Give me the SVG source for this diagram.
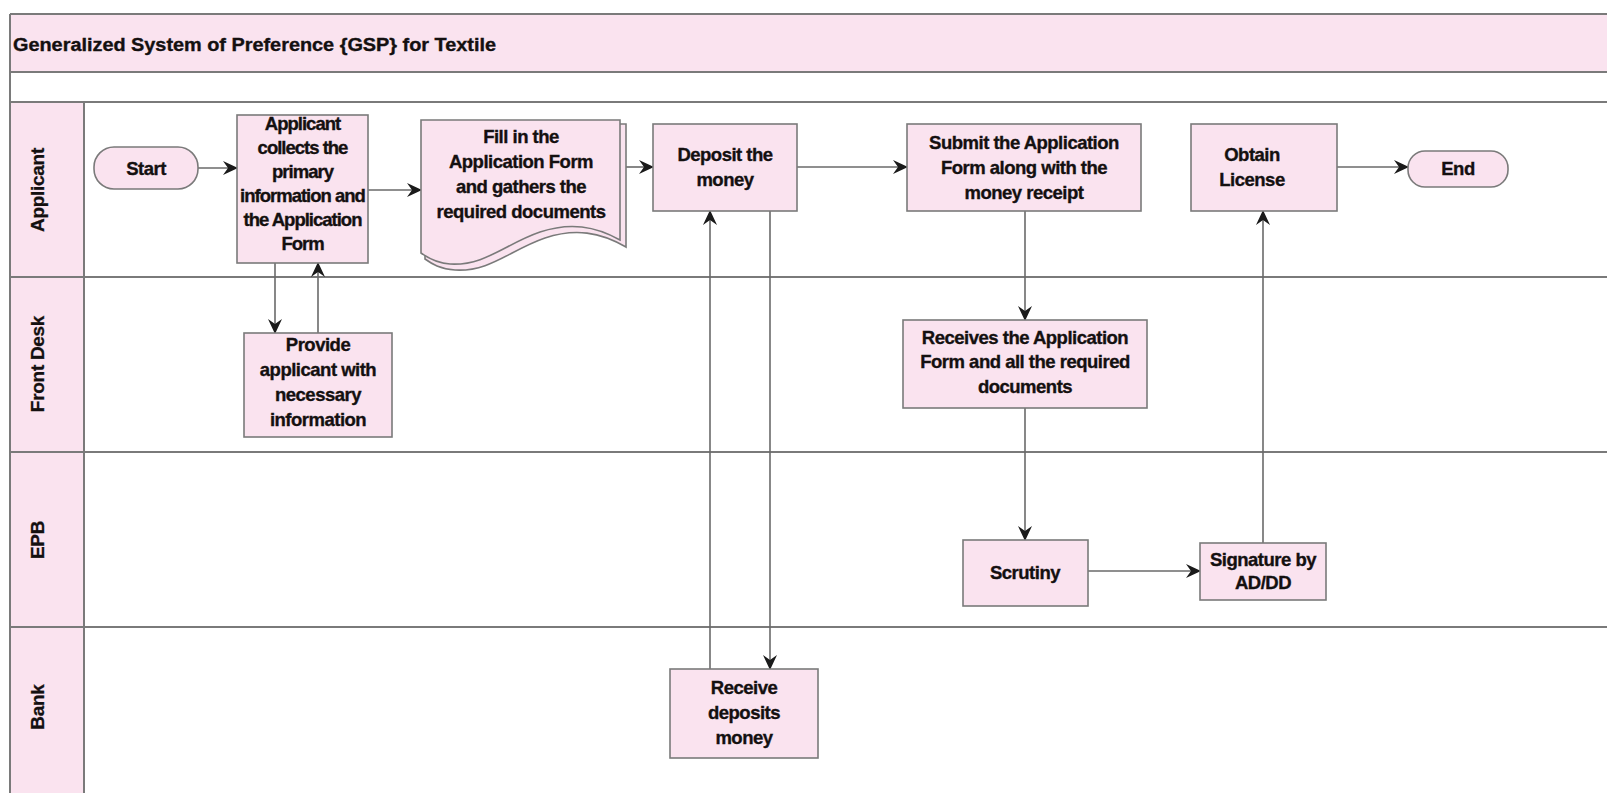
<svg xmlns="http://www.w3.org/2000/svg" width="1607" height="793" viewBox="0 0 1607 793">
<defs>
<marker id="arr" markerUnits="userSpaceOnUse" markerWidth="15" markerHeight="14" refX="14" refY="7" orient="auto">
<path d="M0,0 L15,7 L0,14 L5,7 Z" fill="#1a1a1a"/>
</marker>
<style>
.pink{fill:#fae3ef}
.lane{stroke:#7a7a7a;stroke-width:2;fill:none}
.box{fill:#fae3ef;stroke:#7a7a7a;stroke-width:1.6}
.t{font-family:"Liberation Sans",Arial,sans-serif;font-weight:bold;font-size:18.5px;fill:#141010;stroke:#141010;stroke-width:0.35;text-anchor:middle;letter-spacing:-0.5px}
.narrow{letter-spacing:-1px}
.lbl{font-family:"Liberation Sans",Arial,sans-serif;font-weight:bold;font-size:19px;fill:#141010;stroke:#141010;stroke-width:0.3;text-anchor:middle;letter-spacing:-0.3px}
.ttl{font-family:"Liberation Sans",Arial,sans-serif;font-weight:bold;font-size:18px;fill:#141010;stroke:#141010;stroke-width:0.35}
.c{stroke:#6a6a6a;stroke-width:1.6;fill:none;marker-end:url(#arr)}
</style>
</defs>
<rect width="1607" height="793" fill="#ffffff"/>
<g id="frame">
<rect x="10" y="14" width="1610" height="58" class="pink"/>
<rect x="10" y="102" width="74" height="700" class="pink"/>
<path class="lane" d="M10,14 H1607 M10,72 H1607 M10,102 H1607 M10,277 H1607 M10,452 H1607 M10,627 H1607 M10,14 V793 M84,102 V793"/>
<text class="ttl" x="13" y="51" textLength="483" lengthAdjust="spacingAndGlyphs">Generalized System of Preference {GSP}  for Textile</text>
<text class="lbl" transform="translate(44,190) rotate(-90)">Applicant</text>
<text class="lbl" transform="translate(44,364) rotate(-90)">Front Desk</text>
<text class="lbl" transform="translate(44,540) rotate(-90)">EPB</text>
<text class="lbl" transform="translate(44,707) rotate(-90)">Bank</text>
</g>
<g id="connectors">
<path class="c" d="M198,168 H237"/>
<path class="c" d="M368,190 H421"/>
<path class="c" d="M626,167 H653"/>
<path class="c" d="M797,167 H907"/>
<path class="c" d="M1337,167 H1408"/>
<path class="c" d="M275,263 V333"/>
<path class="c" d="M318,333 V263"/>
<path class="c" d="M770,211 V669"/>
<path class="c" d="M710,669 V211"/>
<path class="c" d="M1025,211 V320"/>
<path class="c" d="M1025,408 V540"/>
<path class="c" d="M1088,571 H1200"/>
<path class="c" d="M1263,543 V211"/>
</g>
<g id="start">
<rect class="box" x="94" y="147" width="104" height="42" rx="20"/>
<text class="t" x="146" y="175">Start</text>
</g>
<g id="collect">
<rect class="box" x="237" y="115" width="131" height="148"/>
<text class="t narrow" x="302.5" y="130">Applicant<tspan x="302.5" dy="24">collects the</tspan><tspan x="302.5" dy="24">primary</tspan><tspan x="302.5" dy="24">information and</tspan><tspan x="302.5" dy="24">the Application</tspan><tspan x="302.5" dy="24">Form</tspan></text>
</g>
<g id="fillin">
<path class="box" d="M425,124 H626 V247 C600,232 575,228 545,238 C510,250 490,272 455,270 C440,269 432,264 425,259 Z"/>
<path class="box" d="M421,120 H620 V240 C595,226 570,222 540,232 C505,244 485,266 450,264 C436,263 428,258 421,253 Z"/>
<text class="t" x="521" y="143">Fill in the<tspan x="521" dy="25">Application Form</tspan><tspan x="521" dy="25">and gathers the</tspan><tspan x="521" dy="25">required documents</tspan></text>
</g>
<g id="deposit">
<rect class="box" x="653" y="124" width="144" height="87"/>
<text class="t" x="725" y="161">Deposit the<tspan x="725" dy="25">money</tspan></text>
</g>
<g id="submit">
<rect class="box" x="907" y="124" width="234" height="87"/>
<text class="t" x="1024" y="149">Submit the Application<tspan x="1024" dy="25">Form along with the</tspan><tspan x="1024" dy="25">money receipt</tspan></text>
</g>
<g id="obtain">
<rect class="box" x="1191" y="124" width="146" height="87"/>
<text class="t" x="1252" y="161">Obtain<tspan x="1252" dy="25">License</tspan></text>
</g>
<g id="end">
<rect class="box" x="1408" y="151" width="100" height="36" rx="17"/>
<text class="t" x="1458" y="175">End</text>
</g>
<g id="provide">
<rect class="box" x="244" y="333" width="148" height="104"/>
<text class="t" x="318" y="351">Provide<tspan x="318" dy="25">applicant with</tspan><tspan x="318" dy="25">necessary</tspan><tspan x="318" dy="25">information</tspan></text>
</g>
<g id="receives">
<rect class="box" x="903" y="320" width="244" height="88"/>
<text class="t" x="1025" y="344">Receives the Application<tspan x="1025" dy="24">Form and all the required</tspan><tspan x="1025" dy="25">documents</tspan></text>
</g>
<g id="scrutiny">
<rect class="box" x="963" y="540" width="125" height="66"/>
<text class="t" x="1025" y="579">Scrutiny</text>
</g>
<g id="signature">
<rect class="box" x="1200" y="543" width="126" height="57"/>
<text class="t" x="1263" y="566">Signature by<tspan x="1263" dy="23">AD/DD</tspan></text>
</g>
<g id="bankrecv">
<rect class="box" x="670" y="669" width="148" height="89"/>
<text class="t" x="744" y="694">Receive<tspan x="744" dy="25">deposits</tspan><tspan x="744" dy="25">money</tspan></text>
</g>
</svg>
